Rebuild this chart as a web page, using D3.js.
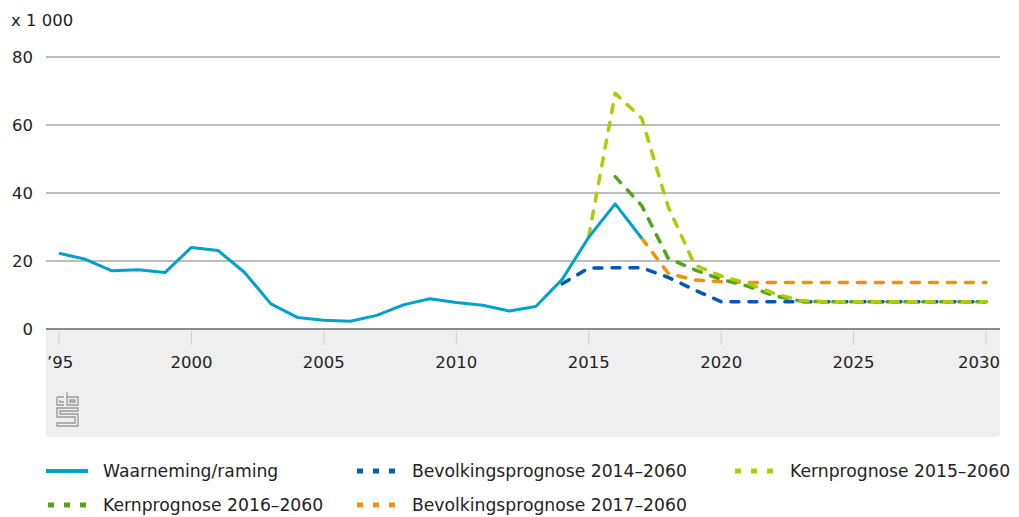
<!DOCTYPE html>
<html>
<head>
<meta charset="utf-8">
<script src="https://cdn.jsdelivr.net/npm/d3@7"></script>
<style>
  body { margin: 0; background: #fff; }
  text { font-family: "DejaVu Sans", sans-serif; fill: #222; }
</style>
</head>
<body>
<div id="chart"></div>
<script>
// chart size
const width = 1019, height = 517;
const margin = {top: 57, right: 19, bottom: 188, left: 46};

// data, thousands of people
const waarneming = [
  [1995, 22.3], [1996, 20.5], [1997, 17.1], [1998, 17.4], [1999, 16.6],
  [2000, 24.0], [2001, 23.1], [2002, 16.7], [2003, 7.4], [2004, 3.4],
  [2005, 2.6], [2006, 2.3], [2007, 4.0], [2008, 7.1], [2009, 8.9],
  [2010, 7.8], [2011, 7.0], [2012, 5.3], [2013, 6.6], [2014, 14.6],
  [2015, 27.0], [2016, 36.8], [2017, 26.7]
];
const bevolking2014 = [
  [2014, 13.3], [2015, 17.9], [2016, 18.0], [2017, 18.0], [2018, 15.2],
  [2019, 11.5], [2020, 8.0], [2021, 8.0], [2022, 8.0], [2023, 8.0],
  [2024, 8.0], [2025, 8.0], [2026, 8.0], [2027, 8.0], [2028, 8.0],
  [2029, 8.0], [2030, 8.0]
];
const kern2015 = [
  [2015, 27.2], [2016, 69.3], [2017, 62.0], [2018, 36.0], [2019, 18.8],
  [2020, 15.6], [2021, 13.4], [2022, 10.5], [2023, 8.3], [2024, 8.0],
  [2025, 8.0], [2026, 8.0], [2027, 8.0], [2028, 8.0], [2029, 8.0], [2030, 8.0]
];
const kern2016 = [
  [2016, 44.8], [2017, 36.3], [2018, 20.8], [2019, 17.4], [2020, 14.6],
  [2021, 12.6], [2022, 9.8], [2023, 8.2], [2024, 8.0], [2025, 8.0],
  [2026, 8.0], [2027, 8.0], [2028, 8.0], [2029, 8.0], [2030, 8.0]
];
const bevolking2017 = [
  [2017, 26.7], [2018, 16.4], [2019, 14.4], [2020, 13.9], [2021, 13.7],
  [2022, 13.7], [2023, 13.7], [2024, 13.7], [2025, 13.7], [2026, 13.7],
  [2027, 13.7], [2028, 13.7], [2029, 13.7], [2030, 13.7]
];
const yTicks = [0, 20, 40, 60, 80];
const xTicks = [1995, 2000, 2005, 2010, 2015, 2020, 2025, 2030];

const series = [
  {name: 'Waarneming/raming', data: waarneming, color: '#00a1cd', dashed: false},
  {name: 'Bevolkingsprognose 2014–2060', data: bevolking2014, color: '#0058b8', dashed: true},
  {name: 'Kernprognose 2015–2060', data: kern2015, color: '#afcb05', dashed: true},
  {name: 'Kernprognose 2016–2060', data: kern2016, color: '#53a31d', dashed: true},
  {name: 'Bevolkingsprognose 2017–2060', data: bevolking2017, color: '#f39200', dashed: true}
];

const svg = d3.select('#chart').append('svg')
    .attr('width', width)
    .attr('height', height);

const x = d3.scaleLinear().domain([1995, 2030]).range([59, 986]);
const y = d3.scaleLinear().domain([0, 80]).range([329, 57]);

// gray band under the axis, rounded at the bottom
const bandTop = 329, bandBottom = 437, r = 4;
svg.append('path')
    .attr('d', `M${margin.left},${bandTop} H1000 V${bandBottom - r} Q1000,${bandBottom} ${1000 - r},${bandBottom}` +
               ` H${margin.left + r} Q${margin.left},${bandBottom} ${margin.left},${bandBottom - r} Z`)
    .attr('fill', '#efefef');

// gridlines
svg.append('g').selectAll('line')
  .data(yTicks.filter(d => d > 0))
  .join('line')
    .attr('x1', margin.left).attr('x2', 1000)
    .attr('y1', d => y(d)).attr('y2', d => y(d))
    .attr('stroke', '#7a7a7a').attr('stroke-width', 1);

svg.append('g').selectAll('text')
  .data(yTicks)
  .join('text')
    .attr('x', 33)
    .attr('y', d => y(d) + 6)
    .attr('font-size', 16.5)
    .attr('text-anchor', 'end')
    .text(d => d);

svg.append('text').attr('x', 11).attr('y', 26).attr('font-size', 16.5).text('x 1 000');

// x ticks inside the band
svg.append('g').selectAll('line')
  .data(xTicks)
  .join('line')
    .attr('x1', d => x(d)).attr('x2', d => x(d))
    .attr('y1', 331).attr('y2', 345)
    .attr('stroke', '#cfcfcf').attr('stroke-width', 1);

svg.append('g').selectAll('text')
  .data(xTicks)
  .join('text')
    .attr('x', d => x(d))
    .attr('y', 368)
    .attr('font-size', 16.5)
    .attr('text-anchor', (d, i) => i === 0 ? 'start' : (i === xTicks.length - 1 ? 'end' : 'middle'))
    .attr('dx', (d, i) => i === 0 ? -12 : (i === xTicks.length - 1 ? 14 : 0))
    .text(d => d === 1995 ? '\u201995' : d);

// baseline
svg.append('line')
    .attr('x1', margin.left).attr('x2', 1000)
    .attr('y1', y(0)).attr('y2', y(0))
    .attr('stroke', '#8a8a8a').attr('stroke-width', 2);

// lines
const line = d3.line().x(d => x(d[0])).y(d => y(d[1]));
// draw the dashed ones first, then the observation on top
const order = [1, 4, 3, 2, 0];
order.forEach(i => {
  const s = series[i];
  svg.append('path')
      .datum(s.data)
      .attr('fill', 'none')
      .attr('stroke', s.color)
      .attr('stroke-width', s.dashed ? 3.5 : 3)
      .attr('stroke-linejoin', 'round')
      .attr('stroke-linecap', s.dashed ? 'round' : 'butt')
      .attr('stroke-dasharray', s.dashed ? '8,10' : null)
      .attr('d', line);
});

// cbs logo
const logo = svg.append('g')
    .attr('transform', 'translate(57,392)')
    .attr('fill', 'none')
    .attr('stroke', '#9a9a9a')
    .attr('stroke-width', 1.3);
logo.append('path').attr('d', 'M0,5 H7 M0,5 V13 H7 M3,8 V10 H7');
logo.append('path').attr('d', 'M10,0 V13 H21 V5 H10 M13,8 H18 V10 H13 Z');
logo.append('path').attr('d', 'M0,16 H21 V19 H3 V22 H21 V34 H0 V31 H18 V25 H0 Z');

// legend
const legendItems = [
  {s: series[0], lx: 46, ty: 477},
  {s: series[1], lx: 355, ty: 477},
  {s: series[2], lx: 733, ty: 477},
  {s: series[3], lx: 46, ty: 511},
  {s: series[4], lx: 355, ty: 511}
];
const lg = svg.append('g');
legendItems.forEach(it => {
  lg.append('line')
      .attr('x1', it.lx + (it.s.dashed ? 2 : 0)).attr('x2', it.lx + 42)
      .attr('y1', it.ty - 6).attr('y2', it.ty - 6)
      .attr('stroke', it.s.color)
      .attr('stroke-width', it.s.dashed ? 5 : 4)
      .attr('stroke-dasharray', it.s.dashed ? '6,10' : null);
  lg.append('text')
      .attr('x', it.lx + 57)
      .attr('y', it.ty)
      .attr('font-size', 17.2)
      .attr('font-family', '"DejaVu Sans Condensed", "DejaVu Sans", sans-serif')
      .text(it.s.name);
});
</script>
</body>
</html>
